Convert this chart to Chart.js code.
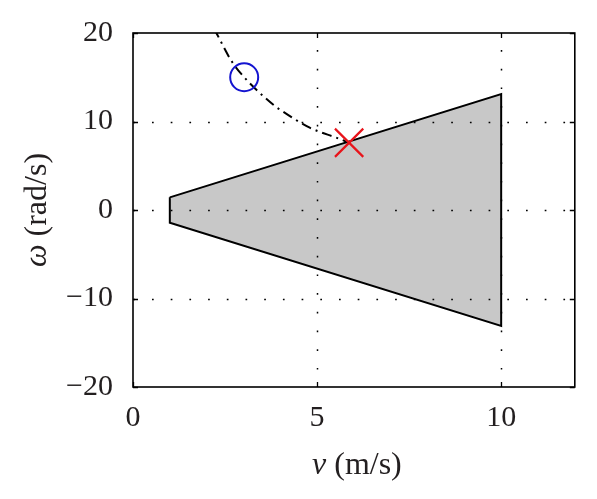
<!DOCTYPE html>
<html>
<head>
<meta charset="utf-8">
<script src="https://cdn.jsdelivr.net/npm/chart.js@4.4.1/dist/chart.umd.min.js"></script>
<style>
html,body{margin:0;padding:0;background:#fff;}
#wrap{width:597px;height:499px;}
</style>
</head>
<body>
<div id="wrap"><canvas id="c" width="597" height="499"></canvas></div>
<script>
// Data
const xTicks = [0, 5, 10];
const yTicks = [-20, -10, 0, 10, 20];
const polyV = [1, 10, 10, 1, 1];
const polyW = [1.43, 13.1, -13.1, -1.43, 1.43];
const curveV = [2.2, 2.29, 2.68, 3.02, 3.45, 3.9, 4.08, 4.8, 5.57, 5.87];
const curveW = [20.5, 19.8, 16.8, 15.0, 13.2, 11.6, 11.1, 9.3, 8.1, 7.6];
const circleV = [3.02];
const circleW = [15.0];
const crossV = [5.87];
const crossW = [7.6];

const FONT = '"Liberation Serif", "DejaVu Serif", serif';
const TXT = '#231f20';

function pts(xs, ys){ return xs.map((x,i)=>({x:x, y:ys[i]})); }

const framePlugin = {
  id: 'frame',
  afterDatasetsDraw(chart){
    const {ctx, chartArea:a, scales:{x, y}} = chart;
    ctx.save();
    // dotted grid
    ctx.strokeStyle = '#000';
    ctx.lineWidth = 1.5;
    ctx.lineCap = 'butt';
    ctx.setLineDash([1.7, 17]);
    x.ticks.forEach(t=>{
      const px = Math.round(x.getPixelForValue(t.value)) + 0.5;
      if (px <= a.left+2 || px >= a.right-2) return;
      ctx.lineDashOffset = -17;
      ctx.beginPath(); ctx.moveTo(px, a.top); ctx.lineTo(px, a.bottom); ctx.stroke();
    });
    y.ticks.forEach(t=>{
      const py = Math.round(y.getPixelForValue(t.value)) + 0.5;
      if (py <= a.top+2 || py >= a.bottom-2) return;
      ctx.lineDashOffset = -19;
      ctx.beginPath(); ctx.moveTo(a.left, py); ctx.lineTo(a.right, py); ctx.stroke();
    });
    ctx.setLineDash([]);
    // inward ticks on all four sides
    const tl = 5;
    ctx.lineWidth = 1.3;
    x.ticks.forEach(t=>{
      const px = Math.round(x.getPixelForValue(t.value)) + 0.5;
      ctx.beginPath();
      ctx.moveTo(px, a.bottom); ctx.lineTo(px, a.bottom - tl);
      ctx.moveTo(px, a.top); ctx.lineTo(px, a.top + tl);
      ctx.stroke();
    });
    y.ticks.forEach(t=>{
      const py = Math.round(y.getPixelForValue(t.value)) + 0.5;
      ctx.beginPath();
      ctx.moveTo(a.left, py); ctx.lineTo(a.left + tl, py);
      ctx.moveTo(a.right, py); ctx.lineTo(a.right - tl, py);
      ctx.stroke();
    });
    // box
    ctx.lineWidth = 1.6;
    ctx.strokeStyle = '#000';
    ctx.strokeRect(a.left, a.top, a.right - a.left, a.bottom - a.top);
    ctx.restore();
  },
  afterDraw(chart){
    const {ctx, chartArea:a} = chart;
    ctx.save();
    ctx.fillStyle = TXT;
    ctx.textBaseline = 'alphabetic';
    const size = 32;
    const it = 'italic ' + size + 'px ' + FONT;
    const rg = size + 'px ' + FONT;
    function mixed(parts, cx, cy){
      let w = 0;
      parts.forEach(p=>{ ctx.font = p[1]; w += ctx.measureText(p[0]).width; });
      let xx = cx - w/2;
      parts.forEach(p=>{ ctx.font = p[1]; ctx.textAlign='left'; ctx.fillText(p[0], xx, cy); xx += ctx.measureText(p[0]).width; });
    }
    mixed([['\u03BD', it], [' (m/s)', rg]], (a.left + a.right)/2 + 3, 474);
    ctx.translate(46, (a.top + a.bottom)/2);
    ctx.rotate(-Math.PI/2);
    mixed([['\u03C9', it], [' (rad/s)', rg]], 0, 0);
    ctx.restore();
  }
};

new Chart(document.getElementById('c'), {
  type: 'scatter',
  data: {
    datasets: [
      {
        order: 4,
        data: pts(polyV, polyW),
        showLine: true,
        fill: 'shape',
        backgroundColor: '#c8c8c8',
        borderColor: '#000',
        borderWidth: 2,
        pointRadius: 0,
        tension: 0
      },
      {
        order: 3,
        data: pts(curveV, curveW),
        showLine: true,
        fill: false,
        borderColor: '#000',
        borderWidth: 2,
        borderDash: [10, 5, 2, 5],
        pointRadius: 0,
        cubicInterpolationMode: 'monotone'
      },
      {
        order: 2,
        data: pts(circleV, circleW),
        pointStyle: 'circle',
        pointRadius: 14,
        borderColor: '#1414d0',
        backgroundColor: 'rgba(0,0,0,0)',
        borderWidth: 2
      },
      {
        order: 1,
        data: pts(crossV, crossW),
        pointStyle: 'crossRot',
        pointRadius: 20,
        borderColor: '#e8141b',
        backgroundColor: 'rgba(0,0,0,0)',
        borderWidth: 2.2
      }
    ]
  },
  options: {
    responsive: false,
    animation: false,
    events: [],
    layout: { padding: { top: 33, right: 22, left: 0, bottom: 0 } },
    plugins: { legend: { display: false }, tooltip: { enabled: false } },
    scales: {
      x: {
        type: 'linear', min: 0, max: 12,
        grid: { display: false },
        border: { display: false },
        afterBuildTicks: s => { s.ticks = xTicks.map(v=>({value:v})); },
        afterFit: s => { s.height = 112; },
        ticks: { font: { family: FONT, size: 30 }, color: TXT, padding: 5, maxRotation: 0 }
      },
      y: {
        type: 'linear', min: -20, max: 20,
        grid: { display: false },
        border: { display: false },
        afterBuildTicks: s => { s.ticks = yTicks.map(v=>({value:v})); },
        afterFit: s => { s.width = 133; },
        ticks: { font: { family: FONT, size: 30 }, color: TXT, padding: 12,
                 callback: v => (v < 0 ? '\u2212' + Math.abs(v) : '' + v) }
      }
    }
  },
  plugins: [framePlugin]
});
</script>
</body>
</html>
